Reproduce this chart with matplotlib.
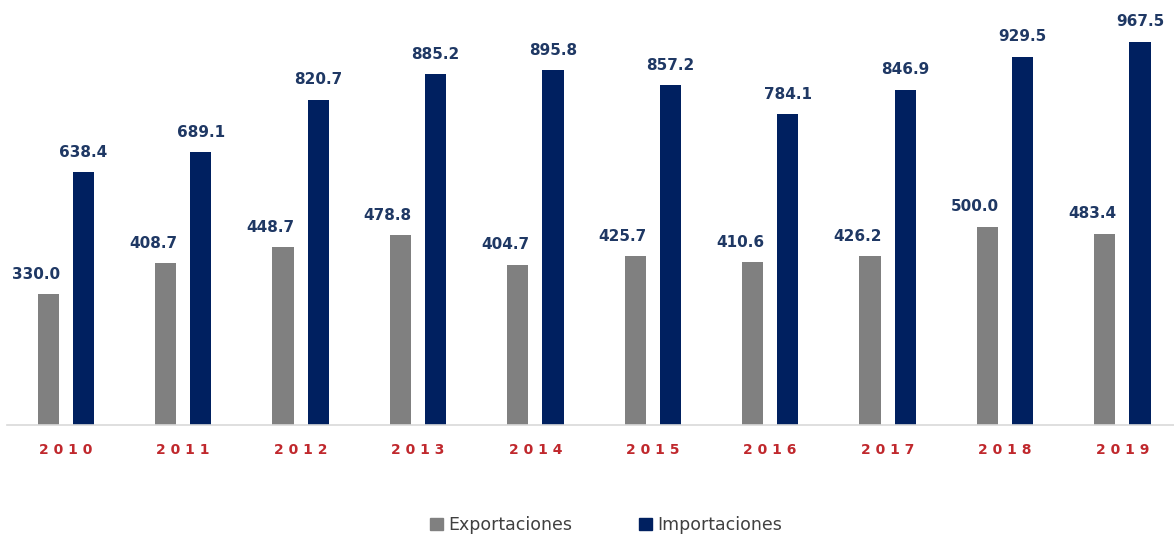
import numpy as np
import matplotlib.pyplot as plt
from matplotlib.patches import Patch

years = ['2010', '2011', '2012', '2013', '2014', '2015', '2016', '2017', '2018', '2019']
exportaciones = [330.0, 408.7, 448.7, 478.8, 404.7, 425.7, 410.6, 426.2, 500.0, 483.4]
importaciones = [638.4, 689.1, 820.7, 885.2, 895.8, 857.2, 784.1, 846.9, 929.5, 967.5]

gray = '#808080'
navy = '#002060'
label_col = '#1F3864'
red = '#C0282D'

fig = plt.figure(figsize=(11.74, 5.37), dpi=100)
ax = fig.add_axes([0.006, 1 - 425 / 537, 1.0, 425 / 537])

x = np.arange(len(years))
w = 0.18
off = 0.15
b1 = ax.bar(x - off, exportaciones, w, color=gray)
b2 = ax.bar(x + off, importaciones, w, color=navy)

# export labels sit a bit left of their bars in the original
for bars, dx in ((b1, -9), (b2, 0)):
    for b in bars:
        h = b.get_height()
        ax.annotate(f'{h:.1f}', (b.get_x() + b.get_width() / 2, h),
                    xytext=(dx, 9), textcoords='offset points',
                    ha='center', va='bottom', fontsize=11, fontweight='bold',
                    color=label_col)

ax.set_xlim(-0.5, len(years) - 0.5)
ax.set_ylim(0, 1073)
ax.set_xticks(x)
ax.set_xticklabels([' '.join(y) for y in years], color=red, fontsize=10,
                   fontweight='bold')
ax.tick_params(axis='x', length=0, pad=13)
ax.set_yticks([])
for s in ['top', 'right', 'left']:
    ax.spines[s].set_visible(False)
ax.spines['bottom'].set_color('#D9D9D9')
ax.spines['bottom'].set_linewidth(1.2)

handles = [Patch(color=gray, label='Exportaciones'),
           Patch(color=navy, label='Importaciones')]
fig.legend(handles=handles, loc='center', bbox_to_anchor=(0.516, 1 - 525 / 537),
           ncol=2, frameon=False, fontsize=12.5, handlelength=0.75, handleheight=0.75,
           handletextpad=0.3, columnspacing=3.85, labelcolor='#404040')

fig.savefig('out.png', dpi=100)
